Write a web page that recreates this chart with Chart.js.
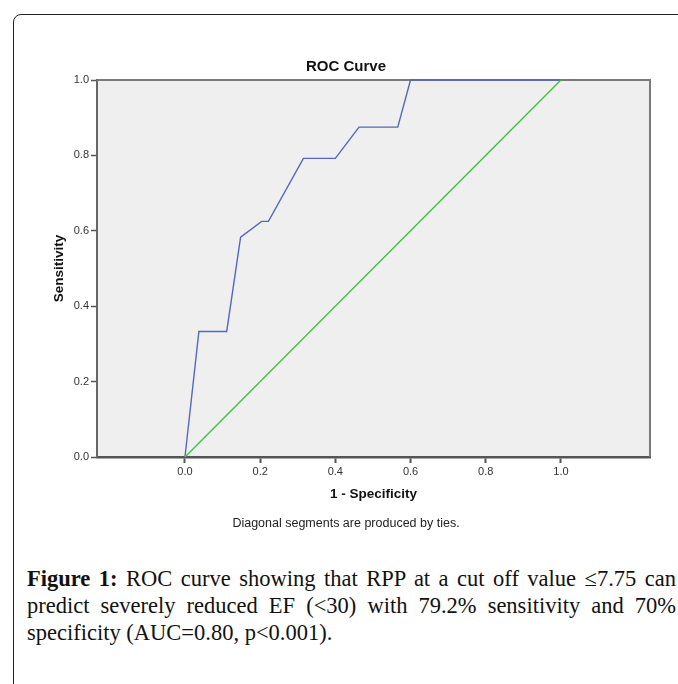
<!DOCTYPE html>
<html>
<head>
<meta charset="utf-8">
<script src="https://cdn.jsdelivr.net/npm/chart.js@4.4.1/dist/chart.umd.min.js"></script>
<style>
  html, body { margin: 0; padding: 0; background: #fff; }
  body { width: 678px; height: 684px; position: relative; overflow: hidden; }
  #frame { position: absolute; left: 13px; top: 14px; width: 700px; height: 700px;
           border: 1.5px solid #222; border-top-left-radius: 8px; box-sizing: border-box; }
  #wrap { position: absolute; left: 14px; top: 0; width: 664px; height: 540px; }
  #caption { position: absolute; left: 27px; top: 565px; width: 649px;
             font-family: "Liberation Serif", "DejaVu Serif", serif; font-size: 22.5px;
             line-height: 27px; color: #111; }
  #caption .j { text-align: justify; text-align-last: justify; white-space: nowrap; }
  #caption .l { text-align: left; white-space: nowrap; }
  #caption b { font-weight: bold; }
</style>
</head>
<body>
<div id="frame"></div>
<div id="wrap"><canvas id="c" width="664" height="540"></canvas></div>
<div id="caption">
  <div class="j"><b>Figure 1:</b> ROC curve showing that RPP at a cut off value ≤7.75 can</div>
  <div class="j">predict severely reduced EF (&lt;30) with 79.2% sensitivity and 70%</div>
  <div class="l">specificity (AUC=0.80, p&lt;0.001).</div>
</div>
<script>
const rocX = [0.0, 0.037, 0.111, 0.148, 0.204, 0.222, 0.315, 0.400, 0.463, 0.566, 0.600, 1.0];
const rocY = [0.0, 0.333, 0.333, 0.583, 0.625, 0.625, 0.792, 0.792, 0.875, 0.875, 1.0, 1.0];
const refX = [0.0, 1.0];
const refY = [0.0, 1.0];
const xTicks = [0.0, 0.2, 0.4, 0.6, 0.8, 1.0];
const yTicks = [0.0, 0.2, 0.4, 0.6, 0.8, 1.0];

const toPts = (xs, ys) => xs.map((x, i) => ({x: x, y: ys[i]}));

const plotFrame = {
  id: 'plotFrame',
  beforeDraw(chart) {
    const {ctx, chartArea: a} = chart;
    ctx.save();
    ctx.fillStyle = '#efefef';
    ctx.fillRect(a.left, a.top, a.right - a.left, a.bottom - a.top);
    ctx.restore();
  },
  beforeDatasetsDraw(chart) {
    const {ctx, chartArea: a} = chart;
    ctx.save();
    ctx.strokeStyle = '#7a7a7a';
    ctx.lineWidth = 2;
    ctx.beginPath();
    ctx.moveTo(a.left, a.top); ctx.lineTo(a.right, a.top); ctx.lineTo(a.right, a.bottom);
    ctx.stroke();
    ctx.restore();
  }
};

const font = '"Liberation Sans", Arial, sans-serif';

new Chart(document.getElementById('c'), {
  type: 'scatter',
  data: {
    datasets: [
      { data: toPts(refX, refY), showLine: true, borderColor: '#3cc13b', borderWidth: 1.3,
        pointRadius: 0, fill: false, tension: 0 },
      { data: toPts(rocX, rocY), showLine: true, borderColor: '#5468c0', borderWidth: 1.4,
        pointRadius: 0, fill: false, tension: 0 }
    ]
  },
  options: {
    responsive: false,
    animation: false,
    clip: false,
    layout: { padding: { left: 28, right: 28, top: 0, bottom: 8.5 } },
    plugins: {
      legend: { display: false },
      tooltip: { enabled: false },
      title: { display: true, text: 'ROC Curve', color: '#111',
               font: { family: font, size: 15, weight: 'bold' },
               padding: { top: 58, bottom: 4 } },
      subtitle: { display: true, position: 'bottom', text: 'Diagonal segments are produced by ties.',
                  color: '#222', font: { family: font, size: 12.5 },
                  padding: { top: 14.5, bottom: 0 } }
    },
    scales: {
      x: {
        type: 'linear', min: -0.234, max: 1.237,
        afterBuildTicks: (s) => { s.ticks = xTicks.map(v => ({value: v})); },
        afterFit: (s) => { s.height = 45; },
        ticks: { callback: (v) => v.toFixed(1), color: '#333', padding: 2,
                 font: { family: font, size: 11 }, maxRotation: 0, autoSkip: false },
        grid: { drawOnChartArea: false, tickLength: 6, tickWidth: 2, color: '#555' },
        border: { display: true, color: '#555', width: 2.5 },
        title: { display: true, text: '1 - Specificity', color: '#111',
                 font: { family: font, size: 13.5, weight: 'bold' }, padding: { top: 0, bottom: 0 } }
      },
      y: {
        type: 'linear', min: 0, max: 1,
        afterBuildTicks: (s) => { s.ticks = yTicks.map(v => ({value: v})); },
        afterFit: (s) => { s.width = 55; },
        ticks: { callback: (v) => v.toFixed(1), color: '#333', padding: 2,
                 font: { family: font, size: 11 }, autoSkip: false },
        grid: { drawOnChartArea: false, tickLength: 6, tickWidth: 1.5, color: '#555' },
        border: { display: true, color: '#666', width: 2 },
        title: { display: true, text: 'Sensitivity', color: '#111',
                 font: { family: font, size: 13.5, weight: 'bold' }, padding: { top: 8.9, bottom: 0 } }
      }
    }
  },
  plugins: [plotFrame]
});
</script>
</body>
</html>
